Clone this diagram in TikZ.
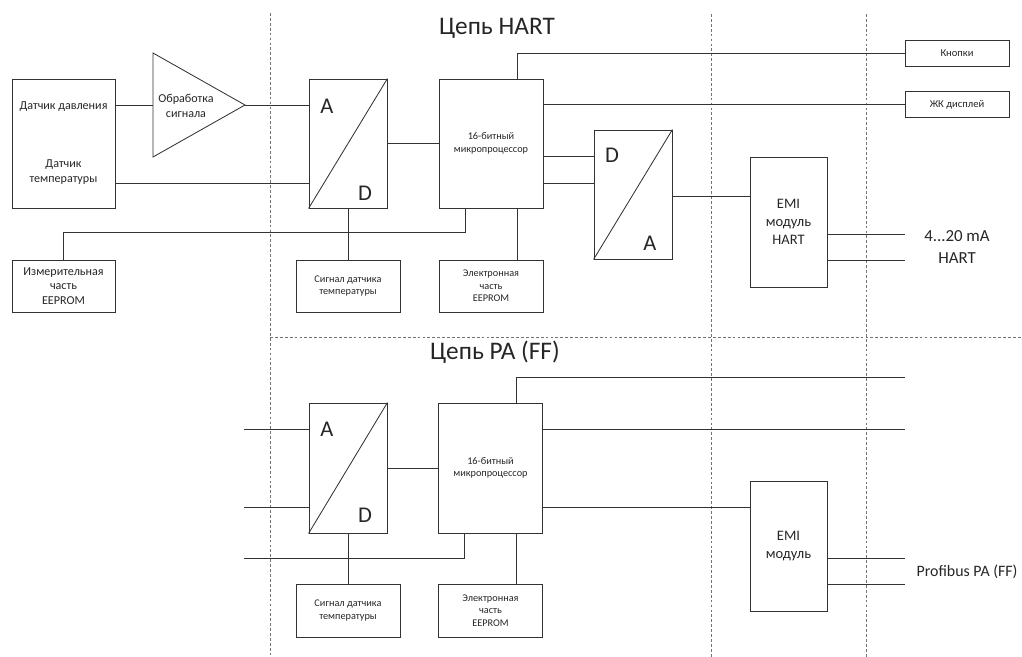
\documentclass[tikz,border=0pt]{standalone}
\usepackage{fontspec}
\setmainfont{Carlito}
\usetikzlibrary{positioning,calc}

\begin{document}
\begin{tikzpicture}[x=0.025cm,y=-0.025cm,
    wire/.style={draw=black!80,line width=0.6pt},
    box/.style={rectangle,draw=black!80,line width=0.6pt,align=center,inner sep=1pt,text=black!85},
    conv/.style={box,minimum width=1.95cm,minimum height=3.225cm},
    cpu/.style={box,minimum width=2.6cm,minimum height=3.225cm,font=\fontsize{7.3}{9}\selectfont},
    mem/.style={box,minimum width=2.6cm,minimum height=1.3cm,font=\fontsize{7.3}{9}\selectfont},
    tag/.style={box,minimum width=2.6cm,minimum height=0.65cm,font=\fontsize{7.5}{9}\selectfont},
    emibox/.style={box,minimum width=1.925cm,minimum height=3.25cm,font=\fontsize{10.3}{13}\selectfont},
    small/.style={align=center,text=black!85,font=\fontsize{8.6}{10.5}\selectfont},
    sep/.style={draw=black!55,line width=0.5pt,dash pattern=on 2pt off 1.5pt},
    letter/.style={text=black!85,font=\fontsize{16}{16}\selectfont},
    title/.style={text=black!85,font=\fontsize{18}{18}\selectfont}]
    \useasboundingbox (0,0) rectangle (1022,657);

    % Separators
    \draw[sep] (270,13) -- (270,655);
    \draw[sep] (711,14) -- (711,657);
    \draw[sep] (866,14) -- (866,657);
    \draw[sep] (270,337) -- (1022,337);

    \node[title] (hart) at (497,28) {Цепь HART};
    \node[title] (pa) at (495,352) {Цепь PA (FF)};

    % HART circuit
    \node[box,minimum width=2.575cm,minimum height=3.225cm] (sensor) at (63.5,143.5) {};
    \node[small] (press) at (63.5,107) {Датчик давления};
    \node[small] (temp) at (63.5,172) {Датчик\\температуры};
    \draw[wire] (153,53) -- (245,105) -- (153,157) -- cycle;
    \coordinate (ampin) at (153,105);
    \coordinate (ampout) at (245,105);
    \node[small] (proc) at (186,106) {Обработка\\сигнала};

    \node[conv] (adc1) at (348,143.5) {};
    \draw[wire] (adc1.south west) -- (adc1.north east);
    \node[letter] at ([shift={(-0.525cm,0.94cm)}]adc1.center) {A};
    \node[letter] at ([shift={(0.425cm,-1.24cm)}]adc1.center) {D};

    \node[cpu] (mcu1) at (491,143.5) {16-битный\\микропроцессор};
    \node[tag] (keys) at (957,53) {Кнопки};
    \node[tag] (lcd) at (957,104.5) {ЖК дисплей};

    \node[conv] (dac) at (633,194.5) {};
    \draw[wire] (dac.south west) -- (dac.north east);
    \node[letter] at ([shift={(-0.525cm,0.99cm)}]dac.center) {D};
    \node[letter] at ([shift={(0.425cm,-1.22cm)}]dac.center) {A};

    \node[emibox] (emi1) at (788.5,222) {EMI\\модуль\\HART};
    \node[text=black!85,font=\fontsize{12}{15.5}\selectfont,align=center] (hartout) at (957,247) {4...20 mA\\HART};
    \coordinate (hart1) at (905,234);
    \coordinate (hart2) at (905,260);

    \node[box,minimum width=2.575cm,minimum height=1.3cm,font=\fontsize{8.6}{10.5}\selectfont] (meas) at (63.5,286) {Измерительная\\часть\\EEPROM};
    \node[mem] (tsig1) at (348,286) {Сигнал датчика\\температуры};
    \node[mem] (eep1) at (491,286) {Электронная\\часть\\EEPROM};

    \draw[wire] (sensor.east |- ampin) -- (ampin);
    \draw[wire] (ampout) -- (ampout -| adc1.west);
    \draw[wire] (sensor.east |- 0,183) -- (adc1.west |- 0,183);
    \draw[wire] (adc1) -- (mcu1);
    \draw[wire] ([xshift=0.65cm]mcu1.north) |- (keys.west);
    \draw[wire] (mcu1.east |- lcd) -- (lcd.west);
    \draw[wire] (mcu1.east |- 0,156) -- (dac.west |- 0,156);
    \draw[wire] (mcu1.east |- 0,183) -- (dac.west |- 0,183);
    \draw[wire] (dac.east |- 0,196) -- (emi1.west |- 0,196);
    \draw[wire] (emi1.east |- hart1) -- (hart1);
    \draw[wire] (emi1.east |- hart2) -- (hart2);
    \draw[wire] (adc1.south) -- (tsig1.north);
    \draw[wire] ([xshift=0.65cm]mcu1.south) -- ([xshift=0.65cm]eep1.north);
    \draw[wire] ([xshift=-0.65cm]mcu1.south) |- ([yshift=0.675cm]meas.north) -- (meas.north);

    % PA (FF) circuit
    \node[conv,minimum height=3.25cm] (adc2) at (348,468) {};
    \draw[wire] (adc2.south west) -- (adc2.north east);
    \node[letter] at ([shift={(-0.525cm,0.975cm)}]adc2.center) {A};
    \node[letter] at ([shift={(0.425cm,-1.175cm)}]adc2.center) {D};

    \node[cpu,minimum height=3.25cm] (mcu2) at (490.5,468) {16-битный\\микропроцессор};
    \node[emibox] (emi2) at (788.5,546) {EMI\\модуль};
    \node[text=black!85,font=\fontsize{11.3}{14}\selectfont,anchor=west,inner sep=1pt] (pbout) at (915,572) {Profibus PA (FF)};
    \node[mem,minimum height=1.325cm] (tsig2) at (348,610.5) {Сигнал датчика\\температуры};
    \node[mem,minimum height=1.325cm] (eep2) at (490.5,610.5) {Электронная\\часть\\EEPROM};

    \coordinate (in1) at (244,429);
    \coordinate (in2) at (244,507);
    \coordinate (in3) at (244,558);
    \coordinate (out1) at (905,377);
    \coordinate (out2) at (905,429);
    \coordinate (pb1) at (905,558);
    \coordinate (pb2) at (905,584);

    \draw[wire] (in1) -- (in1 -| adc2.west);
    \draw[wire] (in2) -- (in2 -| adc2.west);
    \draw[wire] (in3) -| ([xshift=-0.65cm]mcu2.south);
    \draw[wire] (adc2) -- (mcu2);
    \draw[wire] ([xshift=0.65cm]mcu2.north) |- (out1);
    \draw[wire] (mcu2.east |- out2) -- (out2);
    \draw[wire] (mcu2.east |- 0,507) -- (emi2.west |- 0,507);
    \draw[wire] (emi2.east |- pb1) -- (pb1);
    \draw[wire] (emi2.east |- pb2) -- (pb2);
    \draw[wire] (adc2.south) -- (tsig2.north);
    \draw[wire] ([xshift=0.65cm]mcu2.south) -- ([xshift=0.65cm]eep2.north);
\end{tikzpicture}
\end{document}
